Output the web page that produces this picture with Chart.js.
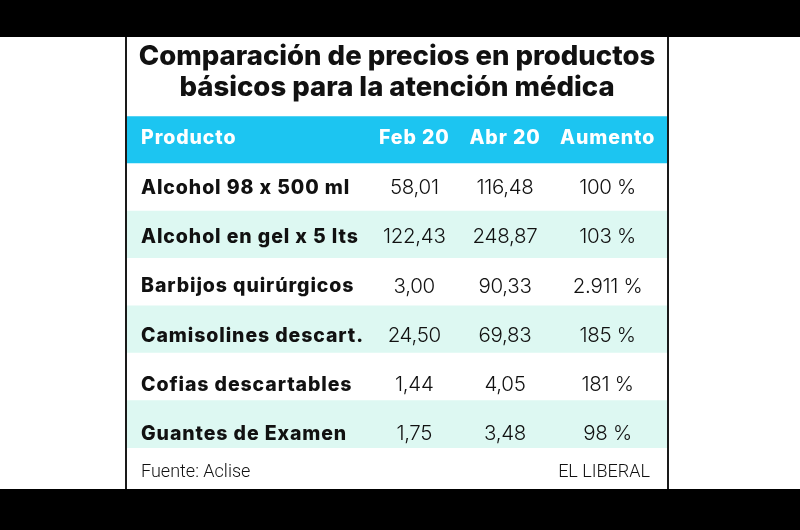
<!DOCTYPE html>
<html><head><meta charset="utf-8">
<script src="https://cdn.jsdelivr.net/npm/chart.js@4/dist/chart.umd.min.js"></script>
<style>
html,body{margin:0;padding:0;background:#fff;}
#page{position:relative;width:800px;height:530px;background:#fff;overflow:hidden;}
#topbar{position:absolute;left:0;top:0;width:800px;height:37px;background:#000;}
#botbar{position:absolute;left:0;top:489px;width:800px;height:41px;background:#000;}
#panel{position:absolute;left:125px;top:37px;width:540px;height:452px;border-left:2px solid #1a1a1a;border-right:2px solid #1a1a1a;background:#fff;}
canvas{display:block;}
</style></head>
<body>
<div id="page">
  <div id="topbar"></div>
  <div id="panel"><canvas id="c" width="540" height="452"></canvas></div>
  <div id="botbar"></div>
</div>
<script>
// ---- data ----
const titleLines = ['Comparación de precios en productos', 'básicos para la atención médica'];
const columns = ['Producto', 'Feb 20', 'Abr 20', 'Aumento'];
const products = [
  'Alcohol 98 x 500 ml',
  'Alcohol en gel x 5 lts',
  'Barbijos quirúrgicos',
  'Camisolines descart.',
  'Cofias descartables',
  'Guantes de Examen'
];
const feb20 = [58.01, 122.43, 3.00, 24.50, 1.44, 1.75];
const abr20 = [116.48, 248.87, 90.33, 69.83, 4.05, 3.48];
const aumento = [100, 103, 2911, 185, 181, 98];
const source = 'Fuente: Aclise';
const credit = 'EL LIBERAL';

// ---- formatting ----
function fmtPrice(v){ return v.toFixed(2).replace('.', ','); }
function fmtPct(v){ return String(v).replace(/\B(?=(\d{3})+(?!\d))/g, '.') + ' %'; }

// ---- layout / style ----
const CYAN = '#1cc5f1';
const MINT = '#ddf8f2';
const INK = '#111111';
const colAnchor = [0.026, 0.532, 0.70, 0.89];
const colAlign = ['left', 'center', 'center', 'center'];
const BOLD = '800 19.5px Inter';
const BOLD_SPACING = '0.9px';
const LIGHT = '300 20.5px Inter';

const rowLabels = [columns[0]].concat(products);
const bandColors = rowLabels.map((r, i) => i === 0 ? CYAN : (i % 2 === 0 ? MINT : '#ffffff'));

const tablePlugin = {
  id: 'tableText',
  afterDatasetsDraw(chart) {
    const ctx = chart.ctx, xs = chart.scales.x, ys = chart.scales.yText;
    ctx.save();
    ctx.textBaseline = 'middle';
    // header
    ctx.font = BOLD; ctx.letterSpacing = BOLD_SPACING; ctx.fillStyle = '#ffffff';
    columns.forEach((c, j) => {
      ctx.textAlign = colAlign[j];
      ctx.fillText(c, xs.getPixelForValue(colAnchor[j]), ys.getPixelForValue(0));
    });
    // rows
    products.forEach((p, i) => {
      const y = ys.getPixelForValue(i + 1);
      ctx.fillStyle = INK;
      ctx.font = BOLD; ctx.letterSpacing = BOLD_SPACING; ctx.textAlign = 'left';
      ctx.fillText(p, xs.getPixelForValue(colAnchor[0]), y);
      ctx.font = LIGHT; ctx.letterSpacing = '-0.3px'; ctx.textAlign = 'center';
      ctx.fillText(fmtPrice(feb20[i]), xs.getPixelForValue(colAnchor[1]), y);
      ctx.fillText(fmtPrice(abr20[i]), xs.getPixelForValue(colAnchor[2]), y);
      ctx.fillText(fmtPct(aumento[i]), xs.getPixelForValue(colAnchor[3]), y);
    });
    // footer
    const fy = chart.chartArea.bottom + 24;
    ctx.font = '300 18px Roboto'; ctx.letterSpacing = '0px';
    ctx.textAlign = 'left';
    ctx.fillText(source, xs.getPixelForValue(colAnchor[0]), fy);
    ctx.textAlign = 'right';
    ctx.fillText(credit, xs.getPixelForValue(0.9685), fy);
    ctx.restore();
  }
};

new Chart(document.getElementById('c'), {
  type: 'bar',
  data: {
    labels: rowLabels,
    datasets: [{
      data: rowLabels.map(() => [0, 1]),
      backgroundColor: bandColors,
      borderWidth: 0,
      borderSkipped: false,
      barPercentage: 1,
      categoryPercentage: 1
    }]
  },
  options: {
    indexAxis: 'y',
    responsive: false,
    animation: false,
    devicePixelRatio: 1,
    layout: { padding: { top: 0, left: 0, right: 0, bottom: 41 } },
    scales: {
      x: { type: 'linear', min: 0, max: 1, display: false },
      y: { type: 'category', display: false, offset: true },
      yText: { type: 'linear', min: -0.456, max: 6.278, bounds: 'data', offset: false, reverse: true, display: false, grace: 0 }
    },
    plugins: {
      legend: { display: false },
      tooltip: { enabled: false },
      title: {
        display: true,
        text: titleLines,
        color: INK,
        font: { family: 'Inter', weight: '800', size: 27.5, lineHeight: 1.13 },
        padding: { top: 4, bottom: 13 }
      }
    }
  },
  plugins: [tablePlugin]
});
</script>
</body></html>
